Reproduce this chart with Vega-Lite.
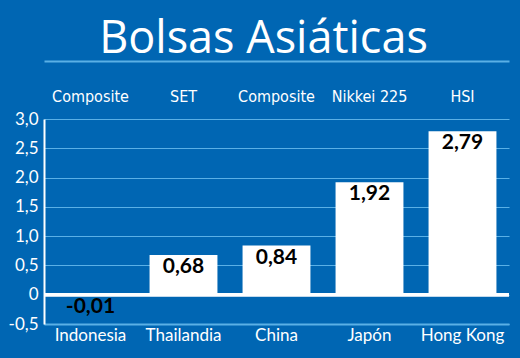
{
  "$schema": "https://vega.github.io/schema/vega-lite/v6.json",
  "width": 465,
  "height": 205,
  "autosize": "none",
  "padding": {"left": 44, "top": 119, "right": 11, "bottom": 34},
  "background": "#0066b3",
  "config": {
    "view": {"stroke": null},
    "locale": {"number": {"decimal": ",", "thousands": ".", "grouping": [3], "currency": ["", " €"], "minus": "-"}}
  },
  "title": {
    "text": "Bolsas Asiáticas",
    "color": "white",
    "font": "Open Sans",
    "fontSize": 45,
    "fontWeight": "normal",
    "anchor": "middle",
    "frame": "group",
    "baseline": "alphabetic",
    "dx": -13,
    "offset": -37
  },
  "data": {
    "values": [
      {"country": "Indonesia", "index": "Composite", "value": -0.01},
      {"country": "Thailandia", "index": "SET", "value": 0.68},
      {"country": "China", "index": "Composite", "value": 0.84},
      {"country": "Japón", "index": "Nikkei 225", "value": 1.92},
      {"country": "Hong Kong", "index": "HSI", "value": 2.79}
    ]
  },
  "layer": [
    {
      "mark": {"type": "bar", "color": "white"},
      "encoding": {
        "x": {
          "field": "country",
          "type": "nominal",
          "sort": null,
          "scale": {"paddingInner": 0.27, "paddingOuter": 0.135},
          "axis": {
            "orient": "bottom",
            "title": null,
            "labelAngle": 0,
            "labelColor": "white",
            "labelFont": "Lato",
            "labelFontSize": 17,
            "labelPadding": 3,
            "ticks": false,
            "domainColor": "#5ab0e6",
            "domainWidth": 2,
            "grid": false
          }
        },
        "y": {
          "field": "value",
          "type": "quantitative",
          "scale": {"domain": [-0.5, 3], "nice": false, "zero": false},
          "axis": {
            "title": null,
            "values": [-0.5, 0, 0.5, 1, 1.5, 2, 2.5, 3],
            "tickCount": 20,
            "format": ".1f",
            "labelExpr": "datum.value == 0 ? '0' : datum.label",
            "labelOverlap": false,
            "labelColor": "white",
            "labelFont": "Lato",
            "labelFontSize": 17,
            "labelPadding": 6,
            "ticks": false,
            "domainColor": "white",
            "domainWidth": 2,
            "grid": true,
            "gridColor": "#5ab0e6",
            "gridWidth": 1.2,
            "gridOpacity": 1
          }
        }
      }
    },
    {
      "mark": {"type": "rule", "color": "white", "strokeWidth": 3},
      "encoding": {"y": {"datum": 0}}
    },
    {
      "mark": {"type": "text", "color": "black", "font": "Lato", "fontSize": 21, "fontWeight": "bold", "baseline": "middle", "dy": 12},
      "encoding": {
        "x": {"field": "country", "type": "nominal", "sort": null, "axis": null},
        "y": {"field": "value", "type": "quantitative"},
        "text": {"field": "value", "type": "quantitative", "format": ".2f"}
      }
    },
    {
      "mark": {"type": "text", "color": "white", "font": "DejaVu Sans Condensed", "fontSize": 16, "baseline": "middle", "dy": -22},
      "encoding": {
        "x": {
          "field": "country",
          "type": "nominal",
          "sort": null,
          "axis": {
            "orient": "top",
            "offset": 58,
            "title": null,
            "labels": false,
            "ticks": false,
            "grid": false,
            "domainColor": "#5ab0e6",
            "domainWidth": 2
          }
        },
        "y": {"datum": 3},
        "text": {"field": "index"}
      }
    }
  ]
}
